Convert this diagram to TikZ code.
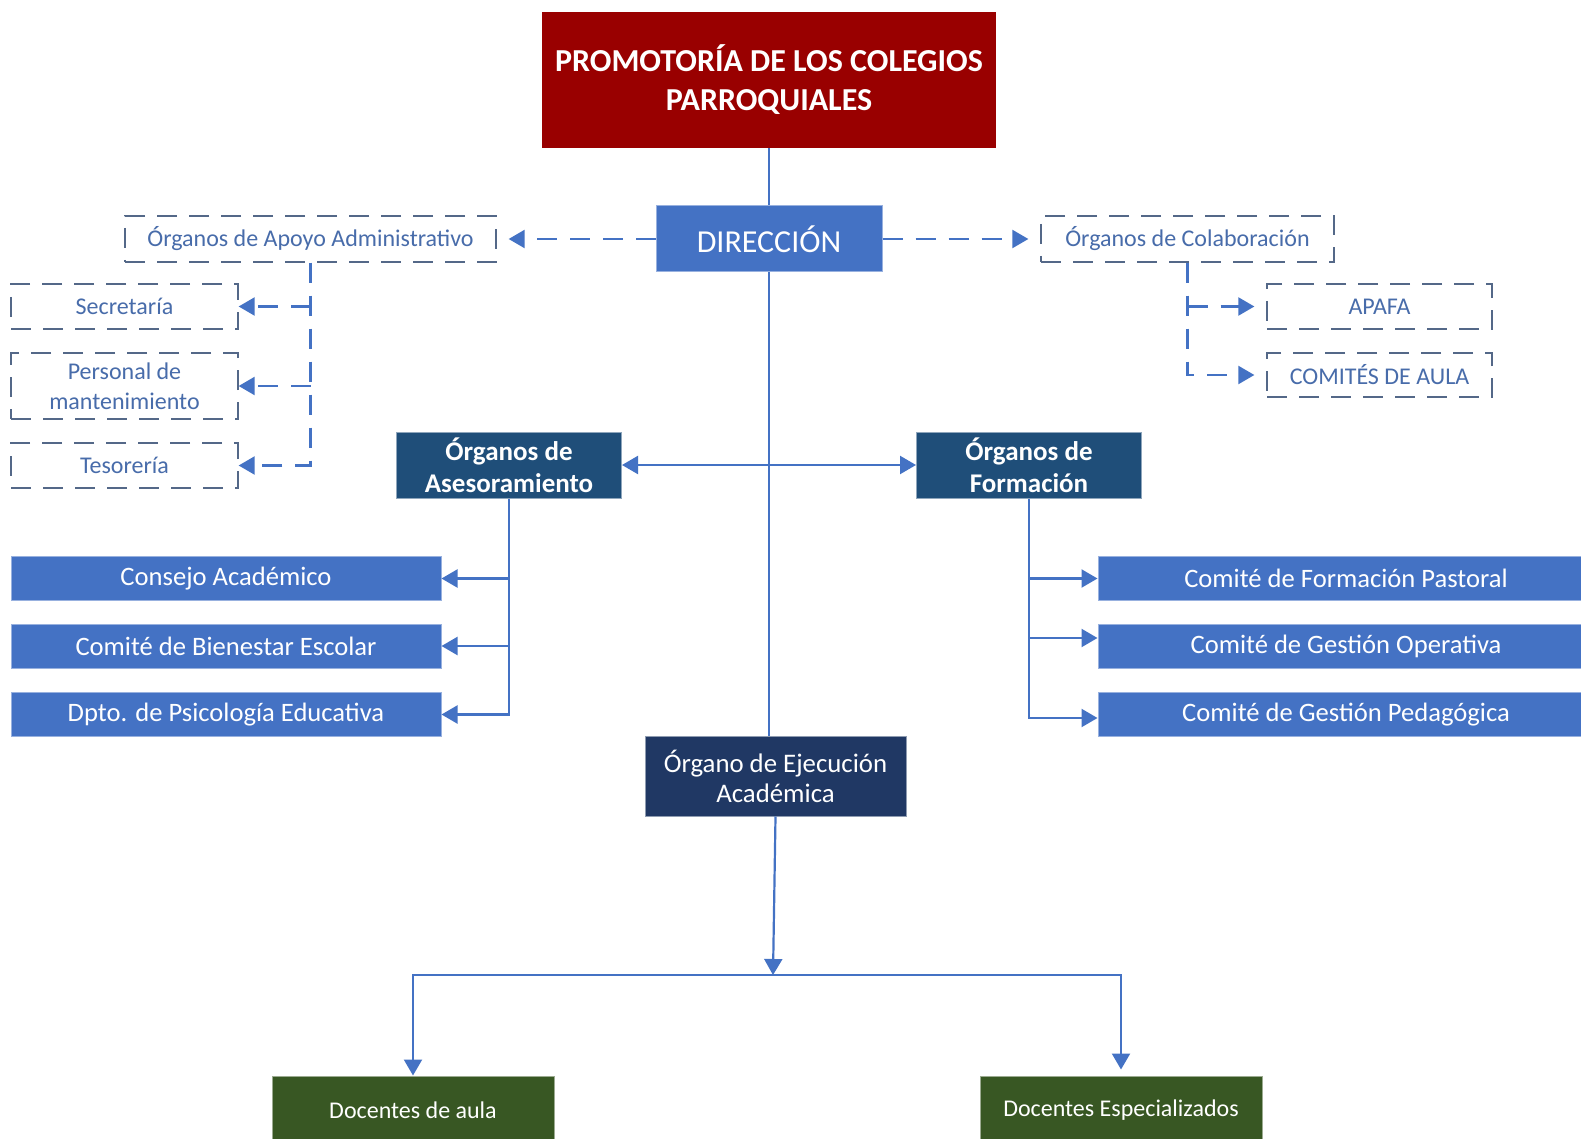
\documentclass[tikz,border=0pt]{standalone}
\usepackage{fontspec}
\setmainfont{Carlito}
\usetikzlibrary{arrows.meta}
\definecolor{promred}{RGB}{153,0,0}
\definecolor{offblue}{RGB}{68,114,196}
\definecolor{deepblue}{RGB}{31,78,121}
\definecolor{navyblue}{RGB}{32,56,100}
\definecolor{leaf}{RGB}{56,87,35}
\definecolor{dashline}{RGB}{84,104,136}
\definecolor{dashtext}{RGB}{72,108,170}
\tikzset{
  box/.style={rectangle, inner sep=0pt, align=center, text=white},
  bluebox/.style={box, fill=offblue, draw=offblue!55!white, line width=1pt,
    minimum width=430pt, minimum height=44pt, font=\fontsize{26.6}{30}\selectfont},
  darkbox/.style={box, fill=deepblue, draw=deepblue!50!white, line width=1pt,
    minimum width=225pt, minimum height=66pt, font=\fontsize{27}{32}\selectfont\bfseries},
  greenbox/.style={box, fill=leaf, draw=leaf!50!white, line width=1pt,
    minimum width=282pt, minimum height=68pt, font=\fontsize{24}{28}\selectfont},
  dashbox/.style={rectangle, inner sep=0pt, align=center, text=dashtext, draw=dashline,
    line width=1.3pt, dash pattern=on 20pt off 12pt, font=\fontsize{24}{30}\selectfont},
  link/.style={offblue, line width=2.2pt},
  dlink/.style={link, dash pattern=on 20pt off 13pt},
  tip/.style={-{Triangle[length=16pt,width=18pt]}}
}
\begin{document}
\begin{tikzpicture}[x=1pt,y=-1pt]
  \fill[white] (0,0) rectangle (1581,1139);
  \useasboundingbox (0,0) rectangle (1581,1139);
  % top of the chart
  \node[box, fill=promred, minimum width=454pt, minimum height=136pt,
    font=\fontsize{32}{39}\selectfont\bfseries] (prom) at (769,80)
    {PROMOTORÍA DE LOS COLEGIOS\\PARROQUIALES};
  \node[box, fill=offblue, draw=offblue!55!white, line width=1pt, minimum width=226pt,
    minimum height=66pt, font=\fontsize{32}{36}\selectfont] (dir) at (769,239) {DIRECCIÓN};
  % dashed side groups
  \node[dashbox, minimum width=371pt, minimum height=46pt] (apoyo) at (310.5,239) {Órganos de Apoyo Administrativo};
  \node[dashbox, minimum width=293pt, minimum height=46pt] (colab) at (1187.5,239) {Órganos de Colaboración};
  \node[dashbox, minimum width=227pt, minimum height=45pt] (secre) at (124.5,306.5) {Secretaría};
  \node[dashbox, minimum width=227pt, minimum height=66pt] (personal) at (124.5,386) {Personal de\\mantenimiento};
  \node[dashbox, minimum width=227pt, minimum height=45pt] (tesor) at (124.5,465.5) {Tesorería};
  \node[dashbox, minimum width=225pt, minimum height=45pt] (apafa) at (1379.5,306.5) {APAFA};
  \node[dashbox, minimum width=225pt, minimum height=44pt] (comites) at (1379.5,375) {COMITÉS DE AULA};
  % middle level
  \node[darkbox] (ases) at (509,465) {Órganos de\\Asesoramiento};
  \node[darkbox] (form) at (1029,465) {Órganos de\\Formación};
  \node[bluebox] (consejo) at (226,578.5) {Consejo Académico};
  \node[bluebox] (bienestar) at (226,646) {Comité de Bienestar Escolar};
  \node[bluebox] (dpto) at (226,714.5) {Dpto. de Psicología Educativa};
  \node[bluebox, minimum width=496pt] (pastoral) at (1346,578.5) {Comité de Formación Pastoral};
  \node[bluebox, minimum width=496pt] (gestop) at (1346,646) {Comité de Gestión Operativa};
  \node[bluebox, minimum width=496pt] (gesped) at (1346,714.5) {Comité de Gestión Pedagógica};
  \coordinate (gestopin) at ([yshift=8pt]gestop.west);
  \coordinate (gespedin) at ([yshift=-3.5pt]gesped.west);
  % bottom level
  \node[box, fill=navyblue, draw=navyblue!50!white, line width=1pt, minimum width=261pt,
    minimum height=80pt, font=\fontsize{26.8}{30}\selectfont] (ejec) at (775.5,776) {Órgano de Ejecución\\Académica};
  \node[greenbox] (aula) at (413,1110) {Docentes de aula};
  \node[greenbox] (espec) at (1121,1110) {Docentes Especializados};
  \coordinate (split) at (773,975);
  % connectors
  \draw[link] (prom.south) -- (dir.north);
  \draw[link] (dir.south) -- (dir.south |- ejec.north);
  \draw[dlink, tip, shorten >=12pt] (dir.west) -- (apoyo.east);
  \draw[dlink, tip, shorten >=12pt] (dir.east) -- (colab.west);
  \draw[dlink, tip] (apoyo.south) |- (tesor.east);
  \draw[dlink, tip] (apoyo.south |- secre.east) -- (secre.east);
  \draw[dlink, tip] (apoyo.south |- personal.east) -- (personal.east);
  \draw[dlink, tip, shorten >=12pt] (colab.south) |- (comites.west);
  \draw[dlink, tip, shorten >=12pt] (colab.south |- apafa.west) -- (apafa.west);
  \draw[link, {Triangle[length=16pt,width=18pt]}-{Triangle[length=16pt,width=18pt]}] (ases.east) -- (form.west);
  \draw[link, tip] (ases.south) |- (dpto.east);
  \draw[link, tip] (ases.south |- consejo.east) -- (consejo.east);
  \draw[link, tip] (ases.south |- bienestar.east) -- (bienestar.east);
  \draw[link, tip] (form.south) |- (gespedin);
  \draw[link, tip] (form.south |- pastoral.west) -- (pastoral.west);
  \draw[link, tip] (form.south |- gestopin) -- (gestopin);
  \draw[link, tip] (ejec.south) -- (split);
  \draw[link, tip] (split) -| (aula.north);
  \draw[link, tip, shorten >=6pt] (split) -| (espec.north);
\end{tikzpicture}
\end{document}
